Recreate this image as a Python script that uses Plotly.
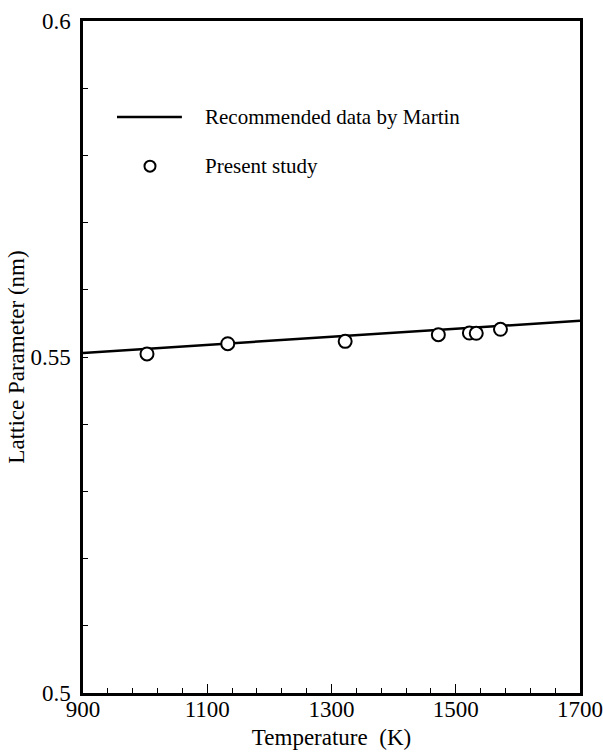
import plotly.graph_objects as go

# Recommended data (Martin) - straight line
martin_T = [900, 1700]
martin_a = [0.5506, 0.5554]

# Present study
study_T = [1003, 1133, 1322, 1472, 1522, 1533, 1572]
study_a = [0.55045, 0.55198, 0.55233, 0.55332, 0.55357, 0.55353, 0.55412]

x_ticks = [900, 1100, 1300, 1500, 1700]
y_ticks = [0.5, 0.55, 0.6]
y_tick_text = ["0.5", "0.55", "0.6"]

FONT = "Liberation Serif, Times New Roman, serif"

fig = go.Figure()
fig.add_trace(go.Scatter(x=martin_T, y=martin_a, mode="lines",
                         line=dict(color="black", width=2.5), showlegend=False))
fig.add_trace(go.Scatter(x=study_T, y=study_a, mode="markers",
                         marker=dict(symbol="circle", size=13, color="white",
                                     line=dict(color="black", width=2)),
                         showlegend=False))

# legend drawn manually
fig.add_shape(type="line", xref="paper", yref="paper", x0=0.0684, x1=0.199,
              y0=0.857, y1=0.857, line=dict(color="black", width=2.5))
fig.add_shape(type="circle", xref="paper", yref="paper", xsizemode="pixel", ysizemode="pixel",
              xanchor=0.1348, yanchor=0.784, x0=-5.5, x1=5.5, y0=-5.5, y1=5.5,
              line=dict(color="black", width=2), fillcolor="white")
fig.add_annotation(xref="paper", yref="paper", x=0.2414, y=0.857, xanchor="left", yanchor="middle",
                   text="Recommended data by Martin", showarrow=False,
                   font=dict(family=FONT, size=21, color="black"))
fig.add_annotation(xref="paper", yref="paper", x=0.2414, y=0.784, xanchor="left", yanchor="middle",
                   text="Present study", showarrow=False,
                   font=dict(family=FONT, size=21, color="black"))

fig.update_layout(
    width=603, height=754,
    margin=dict(l=83, r=23, t=21, b=61),
    paper_bgcolor="white", plot_bgcolor="white",
    font=dict(family=FONT, size=23, color="black"),
    showlegend=False,
)
fig.update_xaxes(
    automargin=False,
    range=[900, 1700], tickvals=x_ticks, ticks="inside", ticklen=9, tickwidth=1.2,
    tickcolor="black", showgrid=False, zeroline=False,
    showline=True, linecolor="black", linewidth=2.5, mirror=True,
    minor=dict(dtick=40, tick0=900, ticks="inside", ticklen=5, tickcolor="black", showgrid=False),
    title=dict(text="Temperature&nbsp; (K)", standoff=8, font=dict(size=23)),
    tickfont=dict(size=23), ticklabelstandoff=-6,
)
fig.update_yaxes(
    automargin=False,
    range=[0.5, 0.6], tickvals=y_ticks, ticktext=y_tick_text, ticks="inside", ticklen=5,
    tickwidth=1.2, tickcolor="black", showgrid=False, zeroline=False,
    showline=True, linecolor="black", linewidth=2.5, mirror=True,
    minor=dict(dtick=0.01, tick0=0.5, ticks="inside", ticklen=5, tickcolor="black", showgrid=False),
    title=dict(text="Lattice Parameter (nm)", standoff=0, font=dict(size=23)),
    tickfont=dict(size=23), ticklabelstandoff=5,
)

fig.write_html("out.html")
